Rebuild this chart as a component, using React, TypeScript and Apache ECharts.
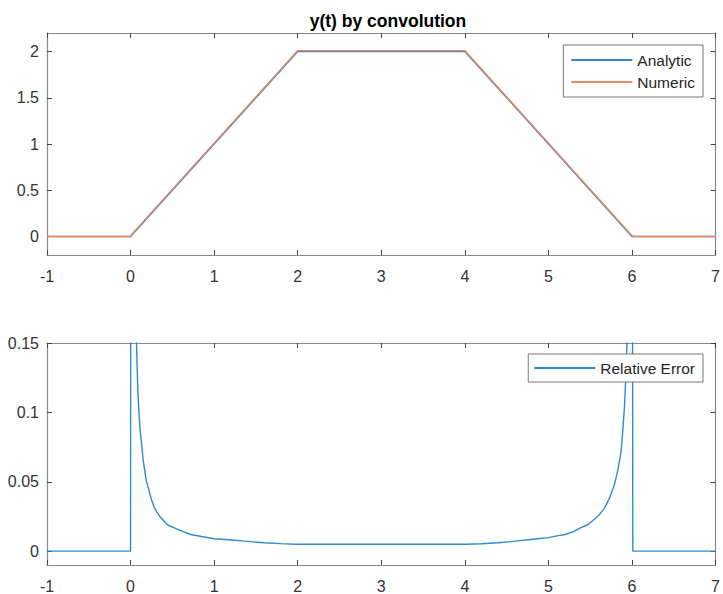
import React, { useEffect, useRef } from "react";
import * as echarts from "echarts";

// Top subplot: y(t)
const tAnalytic = [-1, 0, 2, 4, 6, 7];
const yAnalytic = [0, 0, 2, 2, 0, 0];
const tNumeric = [-1, 0, 0.01, 2, 4, 5.99, 6.01, 7];
const yNumeric = [0, 0, 0.02, 2.01, 2.01, 0.02, 0, 0];

// Bottom subplot: relative error
const tError = [
  -1, 0, 0.01, 0.02, 0.04, 0.071, 0.08, 0.087, 0.1, 0.113, 0.127, 0.15, 0.187, 0.22, 0.25, 0.286,
  0.35, 0.44, 0.55, 0.63, 0.72, 0.85, 1.0, 1.18, 1.36, 1.6, 1.8, 1.97, 3, 4.0, 4.2, 4.4, 4.6, 4.76,
  4.9, 5.0, 5.1, 5.2, 5.3, 5.39, 5.47, 5.55, 5.62, 5.67, 5.73, 5.79, 5.83, 5.87, 5.89, 5.91, 5.93,
  5.94, 5.97, 5.99, 6.01, 7,
];
const yError = [
  0, 0, 1.0, 0.5, 0.25, 0.15, 0.13, 0.116, 0.1, 0.088, 0.08, 0.066, 0.051, 0.044, 0.037, 0.031,
  0.025, 0.019, 0.016, 0.014, 0.012, 0.0105, 0.0089, 0.0082, 0.0072, 0.006, 0.0054, 0.005, 0.005,
  0.005, 0.0053, 0.006, 0.0072, 0.0082, 0.0091, 0.0097, 0.011, 0.012, 0.014, 0.017, 0.019, 0.023,
  0.027, 0.031, 0.038, 0.048, 0.058, 0.072, 0.087, 0.104, 0.13, 0.15, 0.33, 1.0, 0, 0,
];

const xTicks = [-1, 0, 1, 2, 3, 4, 5, 6, 7];
const yTicksTop = [0, 0.5, 1, 1.5, 2];
const yTicksBottom = [0, 0.05, 0.1, 0.15];

const FONT = "'Liberation Sans', Arial, Helvetica, sans-serif";
const AXIS_COLOR = "#8a8a8a";
const TICK_COLOR = "#444";
const TEXT_COLOR = "#333";
const BLUE = "#2f8ad0";
const ORANGE = "#ee8760";

const pairs = (xs: number[], ys: number[]) => xs.map((x, i) => [x, ys[i]]);
const fmt = (v: number) => String(Number(v.toFixed(4)));

function makeX(gridIndex: number, position: "bottom" | "top") {
  return {
    type: "value",
    gridIndex,
    position,
    min: xTicks[0],
    max: xTicks[xTicks.length - 1],
    interval: 1,
    axisLine: { show: true, onZero: false, lineStyle: { color: AXIS_COLOR, width: 1.2 } },
    axisTick: { show: true, inside: true, length: 5, lineStyle: { color: TICK_COLOR } },
    axisLabel: {
      show: position === "bottom",
      margin: 13,
      fontSize: 16,
      color: TEXT_COLOR,
      fontFamily: FONT,
      formatter: (v: number) => fmt(v),
    },
    splitLine: { show: false },
  };
}

function makeY(gridIndex: number, position: "left" | "right", min: number, max: number, ticks: number[]) {
  return {
    type: "value",
    gridIndex,
    position,
    min,
    max,
    axisLine: { show: true, onZero: false, lineStyle: { color: AXIS_COLOR, width: 1.2 } },
    axisTick: { show: true, inside: true, length: 5, customValues: ticks, lineStyle: { color: TICK_COLOR } },
    axisLabel: {
      show: position === "left",
      customValues: ticks,
      margin: 8,
      fontSize: 16,
      color: TEXT_COLOR,
      fontFamily: FONT,
      formatter: (v: number) => fmt(v),
    },
    splitLine: { show: false },
  };
}

export default function App() {
  const ref = useRef<HTMLDivElement>(null);

  useEffect(() => {
    if (!ref.current) return;
    const chart = echarts.init(ref.current, null, { renderer: "svg" });
    const legendCommon = {
      orient: "vertical",
      backgroundColor: "#fff",
      borderColor: "#777",
      borderWidth: 1,
      icon: "rect",
      itemWidth: 61,
      itemHeight: 2,
      itemGap: 4,
      textStyle: { fontSize: 15.5, color: "#262626", fontFamily: FONT, lineHeight: 18 },
      selectedMode: false,
    };
    chart.setOption({
      animation: false,
      backgroundColor: "#fff",
      title: {
        text: "y(t) by convolution",
        left: 383,
        top: 7,
        textAlign: "center",
        textStyle: { fontSize: 17.5, fontWeight: "bold", color: "#000", fontFamily: FONT },
      },
      grid: [
        { left: 47, top: 33, width: 672, height: 222 },
        { left: 47, top: 343, width: 672, height: 222 },
      ],
      xAxis: [makeX(0, "bottom"), makeX(0, "top"), makeX(1, "bottom"), makeX(1, "top")],
      yAxis: [
        makeY(0, "left", -0.2, 2.2, yTicksTop),
        makeY(0, "right", -0.2, 2.2, yTicksTop),
        makeY(1, "left", -0.01, 0.15, yTicksBottom),
        makeY(1, "right", -0.01, 0.15, yTicksBottom),
      ],
      legend: [
        {
          ...legendCommon,
          data: ["Analytic", "Numeric"],
          right: 20,
          top: 45,
          padding: [6, 8, 6, 8],
        },
        {
          ...legendCommon,
          data: ["Relative Error"],
          right: 20,
          top: 354,
          padding: [5, 8, 5, 6],
        },
      ],
      series: [
        {
          name: "Analytic",
          type: "line",
          xAxisIndex: 0,
          yAxisIndex: 0,
          data: pairs(tAnalytic, yAnalytic),
          showSymbol: false,
          lineStyle: { color: BLUE, width: 1.4 },
          itemStyle: { color: BLUE },
          z: 2,
        },
        {
          name: "Numeric",
          type: "line",
          xAxisIndex: 0,
          yAxisIndex: 0,
          data: pairs(tNumeric, yNumeric),
          showSymbol: false,
          lineStyle: { color: ORANGE, width: 1.4 },
          itemStyle: { color: ORANGE },
          z: 3,
        },
        {
          name: "Relative Error",
          type: "line",
          xAxisIndex: 2,
          yAxisIndex: 2,
          data: pairs(tError, yError),
          showSymbol: false,
          clip: true,
          lineStyle: { color: BLUE, width: 1.4 },
          itemStyle: { color: BLUE },
        },
      ],
    });
    return () => chart.dispose();
  }, []);

  return (
    <div
      ref={ref}
      style={{ position: "absolute", left: 0, top: 0, width: 723, height: 594 }}
    />
  );
}
